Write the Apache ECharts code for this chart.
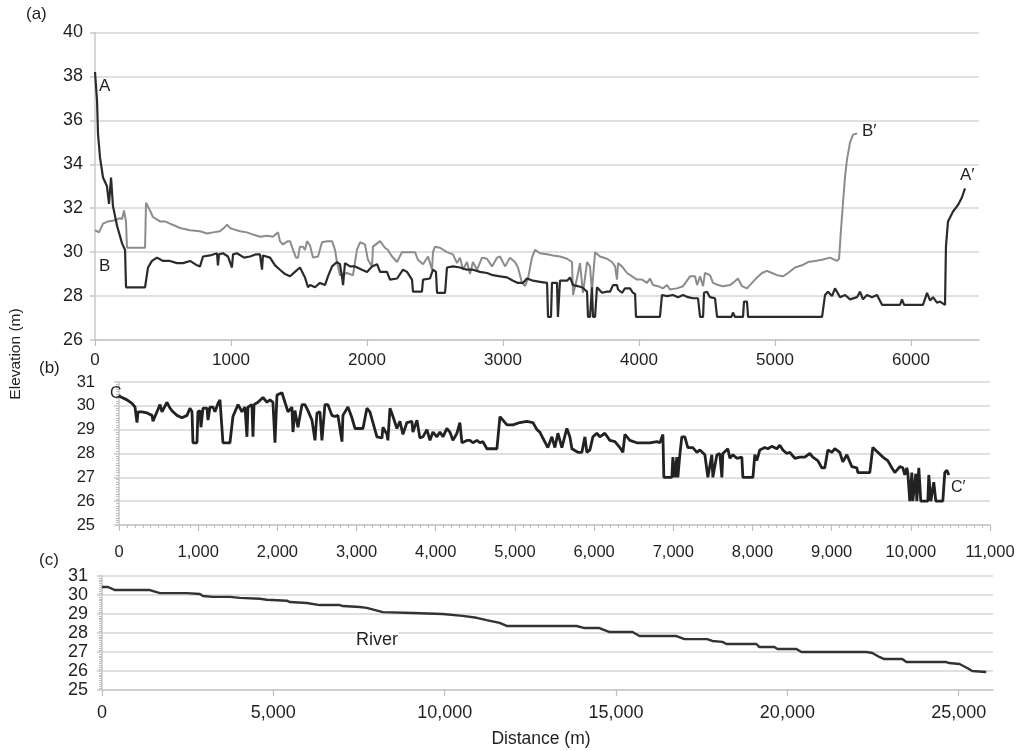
<!DOCTYPE html>
<html>
<head>
<meta charset="utf-8">
<script src="https://cdn.jsdelivr.net/npm/echarts@6/dist/echarts.min.js"></script>
<style>
html,body{margin:0;padding:0;background:#fff;}
#chart{width:1026px;height:751px;}
</style>
</head>
<body>
<div id="chart"></div>
<script>
// ---------- Panel (a): cross-section A–A' (black) ----------
var aDist = [0,15,22,37,59,88,103,118,132,162,199,221,228,368,390,419,456,500,551,603,647,699,750,772,794,846,897,904,912,941,978,1007,1015,1044,1096,1140,1184,1213,1228,1235,1287,1324,1360,1397,1434,1470,1507,1544,1566,1581,1618,1654,1691,1713,1743,1779,1801,1816,1824,1838,1875,1912,1963,2000,2037,2074,2096,2147,2169,2221,2265,2294,2331,2338,2404,2412,2463,2485,2507,2515,2574,2588,2632,2684,2735,2779,2831,2882,2926,2978,3029,3074,3110,3147,3176,3221,3272,3324,3331,3353,3360,3397,3404,3412,3419,3471,3493,3515,3552,3581,3618,3625,3640,3654,3662,3677,3691,3728,3765,3787,3809,3838,3846,3875,3897,3934,3956,3971,3978,4154,4169,4206,4250,4287,4324,4360,4397,4434,4449,4471,4478,4500,4522,4559,4574,4680,4691,4706,4765,4772,4794,4802,5346,5368,5390,5419,5441,5478,5515,5552,5603,5625,5647,5676,5713,5750,5787,5919,5934,5949,6088,6118,6140,6162,6191,6213,6250,6257,6272,6309,6346,6375,6397];
var aElev = [38.2,36.9,35.4,34.3,33.4,33.0,32.2,33.4,32.1,31.2,30.4,30.1,28.4,28.4,29.3,29.6,29.75,29.6,29.6,29.5,29.5,29.6,29.4,29.35,29.8,29.85,29.95,29.4,29.9,29.95,29.8,29.3,29.9,29.95,29.75,29.8,29.9,29.9,29.2,29.85,29.75,29.4,29.2,29.0,28.9,29.1,29.3,28.85,28.4,28.5,28.4,28.6,28.5,28.9,29.35,29.55,29.45,28.9,28.5,29.5,29.35,29.35,29.2,29.1,29.35,29.45,29.1,29.1,28.75,28.8,29.2,29.1,28.75,28.2,28.2,28.75,28.8,29.2,29.1,28.15,28.15,29.3,29.35,29.3,29.2,29.2,29.1,29.05,28.95,28.9,28.85,28.7,28.6,28.6,28.8,28.7,28.65,28.6,27.05,27.05,28.6,28.6,27.05,27.05,28.7,28.7,28.85,28.5,28.45,28.4,28.2,27.05,27.05,28.4,27.05,27.05,28.4,28.15,28.2,28.2,28.5,28.5,28.3,28.15,28.35,28.35,28.15,28.1,27.05,27.05,28.05,28.0,28.05,27.95,28.05,27.95,27.9,27.9,27.05,27.05,28.15,28.2,27.95,27.9,27.05,27.05,27.25,27.05,27.05,27.75,27.75,27.05,27.05,28.05,28.2,28.0,28.35,27.95,28.05,27.85,27.95,28.2,27.85,28.05,27.95,28.05,27.6,27.6,27.85,27.6,27.6,28.15,27.8,27.95,27.7,27.75,27.6,30.25,31.4,31.85,32.15,32.5,32.9];

// ---------- Panel (a): cross-section B–B' (grey) ----------
var bDist = [0,29,59,96,147,184,199,213,228,235,368,375,404,426,478,515,551,588,625,699,772,824,868,919,956,971,993,1015,1066,1118,1162,1213,1265,1309,1346,1360,1382,1419,1434,1456,1478,1493,1507,1529,1544,1559,1581,1603,1640,1669,1706,1743,1765,1779,1801,1853,1897,1926,1949,1985,2007,2037,2044,2096,2132,2154,2184,2221,2257,2294,2353,2375,2412,2449,2478,2485,2500,2537,2588,2632,2662,2684,2706,2735,2757,2779,2809,2846,2882,2919,2956,2978,3015,3051,3088,3110,3140,3162,3184,3213,3235,3272,3324,3368,3419,3471,3507,3515,3544,3566,3588,3618,3640,3654,3677,3713,3765,3801,3824,3838,3846,3875,3912,3949,3985,4022,4059,4081,4103,4140,4176,4206,4228,4279,4324,4375,4412,4427,4449,4471,4485,4522,4544,4581,4618,4669,4691,4728,4757,4794,4831,4868,4904,4941,4978,5015,5059,5096,5147,5199,5243,5294,5346,5404,5456,5471,5485,5500,5515,5529,5552,5574,5603];
var bElev = [31.0,30.9,31.3,31.4,31.45,31.55,31.5,31.9,31.4,30.2,30.2,32.25,31.9,31.6,31.4,31.4,31.3,31.2,31.1,31.0,30.95,30.85,30.9,30.95,31.15,31.25,31.1,31.05,30.95,30.9,30.8,30.7,30.75,30.7,30.9,30.5,30.35,30.5,30.5,30.1,29.75,29.75,30.25,30.25,30.1,30.5,30.3,29.75,29.8,30.45,30.5,30.5,30.1,29.55,28.95,29.05,28.95,30.1,30.45,30.35,29.65,29.35,30.25,30.5,30.2,30.1,29.8,29.55,30.0,30.0,30.0,29.65,29.45,29.8,29.2,30.0,30.25,30.2,30.0,29.9,29.5,29.75,29.2,29.55,29.0,29.55,29.2,29.75,29.7,29.35,29.75,29.8,29.35,29.75,29.55,29.3,28.6,28.45,28.8,29.75,30.1,29.95,29.9,29.85,29.8,29.7,29.55,28.05,28.8,29.5,28.15,29.55,29.35,28.2,30.0,29.8,29.7,29.55,29.35,28.75,29.5,29.35,29.05,28.9,28.75,28.75,28.6,28.8,28.5,28.45,28.35,28.5,28.3,28.35,28.45,28.9,28.9,28.5,28.9,28.45,29.05,28.95,28.6,28.5,28.45,28.5,28.6,28.8,28.45,28.35,28.6,28.85,29.05,29.15,29.05,28.95,28.9,29.05,29.3,29.4,29.55,29.6,29.65,29.75,29.6,29.7,31.0,32.25,33.45,34.2,35.0,35.35,35.4];

// ---------- Panel (b): cross-section C–C' ----------
var cDist = [0,38,101,164,202,227,240,290,354,417,429,480,518,543,606,644,682,732,795,859,896,922,934,985,997,1023,1035,1061,1111,1124,1149,1187,1212,1250,1275,1313,1401,1439,1503,1553,1591,1616,1629,1679,1692,1705,1755,1818,1869,1907,1944,1970,1995,2058,2096,2134,2184,2197,2222,2260,2311,2348,2386,2437,2475,2500,2538,2563,2601,2639,2689,2727,2765,2816,2828,2891,2942,2980,3081,3131,3169,3207,3258,3321,3333,3384,3396,3422,3460,3510,3548,3586,3636,3699,3712,3763,3800,3838,3889,3927,3965,4015,4053,4091,4141,4179,4217,4268,4305,4331,4394,4432,4470,4520,4558,4596,4646,4773,4811,4899,4975,5063,5151,5227,5278,5315,5353,5416,5467,5505,5543,5593,5656,5694,5720,5732,5795,5846,5884,5909,5947,5985,6035,6073,6136,6199,6263,6326,6364,6389,6452,6540,6616,6704,6793,6831,6869,6881,6982,6995,7020,7045,7058,7083,7108,7146,7184,7247,7298,7336,7399,7437,7487,7500,7551,7588,7614,7626,7689,7715,7752,7803,7866,7879,8006,8030,8055,8093,8156,8194,8245,8308,8346,8384,8434,8472,8535,8598,8661,8724,8762,8825,8876,8914,8952,9002,9040,9103,9141,9192,9255,9318,9331,9482,9520,9583,9646,9709,9760,9798,9861,9899,9924,9949,9962,9987,10013,10025,10063,10076,10101,10126,10215,10227,10253,10278,10290,10316,10404,10429,10455,10480];
var cElev = [30.4,30.35,30.25,30.1,29.95,29.3,29.75,29.75,29.7,29.6,29.35,29.75,30.05,29.75,30.15,29.9,29.75,29.6,29.5,29.6,29.9,29.75,28.45,28.45,29.75,29.8,29.1,29.9,29.9,29.4,29.95,29.95,29.75,30.1,30.25,28.45,28.45,29.55,30.05,29.75,29.95,28.7,29.95,30.05,28.7,30.05,30.15,30.35,30.15,30.25,30.15,28.45,30.45,30.55,30.15,29.75,29.95,28.9,29.8,29.1,30.05,30.05,29.8,29.4,28.55,29.7,29.75,28.55,30.05,30.05,29.6,29.55,29.6,28.5,29.6,29.95,29.5,29.05,29.05,29.9,29.75,29.3,28.7,28.65,29.1,28.8,28.55,29.9,29.55,29.05,29.35,28.8,29.3,29.35,28.9,29.4,28.65,28.7,29.0,28.55,28.9,28.7,28.9,28.7,29.05,28.9,28.55,28.85,29.3,28.45,28.55,28.55,28.45,28.55,28.45,28.5,28.2,28.2,29.55,29.2,29.2,29.3,29.35,29.3,29.0,28.9,28.65,28.25,28.7,28.25,28.85,28.25,29.05,28.7,28.2,28.15,28.05,28.05,28.7,28.05,28.15,28.7,28.85,28.7,28.85,28.55,28.5,28.25,28.05,28.8,28.55,28.45,28.45,28.45,28.5,28.45,28.8,27.0,27.0,27.85,27.0,27.85,27.0,27.95,28.7,28.7,28.25,28.25,28.05,28.15,27.95,27.0,27.95,27.0,27.95,28.0,27.0,28.0,28.2,27.8,27.95,27.8,27.85,27.0,27.0,27.95,27.7,28.15,28.25,28.2,28.3,28.2,28.35,28.15,28.0,28.05,27.8,27.85,27.85,28.0,27.85,27.7,27.4,27.4,28.15,28.05,28.2,28.05,27.65,27.95,27.45,27.4,27.2,27.2,28.25,28.05,27.85,27.7,27.4,27.2,27.45,27.4,27.1,27.4,27.2,26.0,27.2,26.0,27.15,26.0,27.4,26.0,26.0,27.1,26.0,26.0,26.8,26.0,26.0,27.2,27.3,27.1];

// ---------- Panel (c): river profile ----------
var riverDist = [0,175,379,525,1400,1691,2478,2857,2945,3236,3732,4023,4606,4811,5394,5481,5977,6356,6939,7026,7522,7726,8193,9067,9942,10525,10933,11225,11604,11808,12187,13849,14082,14519,14811,15481,15685,16764,16998,17658,17808,18105,18222,19097,19184,19621,19709,20263,20409,22304,22479,22683,22828,23353,23470,24636,24723,25023,25248,25394,25802];
var riverElev = [30.42,30.42,30.26,30.26,30.26,30.1,30.1,30.05,29.95,29.9,29.9,29.85,29.8,29.75,29.7,29.63,29.58,29.47,29.47,29.42,29.37,29.32,29.1,29.05,29.0,28.9,28.8,28.68,28.53,28.37,28.37,28.37,28.26,28.26,28.05,28.05,27.84,27.84,27.68,27.68,27.58,27.53,27.42,27.42,27.26,27.26,27.16,27.16,27.0,27.0,26.95,26.74,26.63,26.63,26.47,26.47,26.42,26.37,26.16,26.0,25.95];

// ---------- Tick values ----------
var aXTicks = [0,1000,2000,3000,4000,5000,6000];
var bXTicks = [0,1000,2000,3000,4000,5000,6000,7000,8000,9000,10000,11000];
var cXTicks = [0,5000,10000,15000,20000,25000];

function zip(xs, ys){ var out=[]; for(var i=0;i<xs.length;i++){ out.push([xs[i], ys[i]]); } return out; }
function comma(v){ return String(v).replace(/\B(?=(\d{3})+(?!\d))/g, ','); }

var FONT = 'Liberation Sans';
var TXT = '#231f20';
var GRIDC = '#d6d6d6';

var chart = echarts.init(document.getElementById('chart'), null, {renderer:'canvas'});

function yAxisCfg(gi, min, max, interval, fs, margin, minor){
  return {
    type:'value', gridIndex:gi, min:min, max:max, interval:interval,
    axisLine:{show:true, lineStyle:{color:'#c8c8c8', width:1.5}},
    axisTick:{show:true, length:5, lineStyle:{color:'#c8c8c8', width:1.5}},
    minorTick: minor ? {show:true, splitNumber:10, length:3, lineStyle:{color:'#bdbdbd'}} : {show:false},
    minorSplitLine:{show:false},
    axisLabel:{color:TXT, fontFamily:FONT, fontSize:fs, margin:margin},
    splitLine:{show:true, lineStyle:{color:GRIDC, width:1.5}}
  };
}
function xAxisCfg(gi, min, max, interval, ticks, fs, margin, fmt, minorSplit){
  return {
    type:'value', gridIndex:gi, min:min, max:max, interval:interval,
    axisLine:{show:true, onZero:false, lineStyle:{color:'#c8c8c8', width:1.5}},
    axisTick:{show:true, length:6, customValues:ticks, lineStyle:{color:'#bdbdbd', width:1.2}},
    minorTick: minorSplit ? {show:true, splitNumber:minorSplit, length:3, lineStyle:{color:'#bdbdbd'}} : {show:false},
    axisLabel:{color:TXT, fontFamily:FONT, fontSize:fs, margin:margin, customValues:ticks, formatter:fmt},
    splitLine:{show:false}
  };
}

var option = {
  animation:false,
  backgroundColor:'#ffffff',
  grid:[
    {left:95, top:32.5, width:884, height:307.5},
    {left:119, top:382, width:871, height:143},
    {left:102, top:576, width:891, height:114}
  ],
  xAxis:[
    xAxisCfg(0, 0, 6500, 1000, aXTicks, 17, 12, function(v){return String(v);}, 0),
    xAxisCfg(1, 0, 11000, 1000, bXTicks, 16.5, 19, function(v){return comma(v);}, 10),
    xAxisCfg(2, 0, 26000, 1000, cXTicks, 18, 14, function(v){return comma(v);}, 0)
  ],
  yAxis:[
    yAxisCfg(0, 26, 40, 2, 18, 12, false),
    yAxisCfg(1, 25, 31, 1, 16.5, 24, true),
    yAxisCfg(2, 25, 31, 1, 18, 14, true)
  ],
  series:[
    {type:'line', xAxisIndex:0, yAxisIndex:0, data:zip(bDist,bElev), showSymbol:false, symbol:'none',
     lineStyle:{color:'#8c8c8c', width:2}, z:2},
    {type:'line', xAxisIndex:0, yAxisIndex:0, data:zip(aDist,aElev), showSymbol:false, symbol:'none',
     lineStyle:{color:'#2b2b2b', width:2.2}, z:3},
    {type:'line', xAxisIndex:1, yAxisIndex:1, data:zip(cDist,cElev), showSymbol:false, symbol:'none',
     lineStyle:{color:'#222222', width:2.8}, z:3},
    {type:'line', xAxisIndex:2, yAxisIndex:2, data:zip(riverDist,riverElev), showSymbol:false, symbol:'none',
     lineStyle:{color:'#333333', width:2.4}, z:3}
  ],
  graphic:[
    {type:'text', left:26, top:6, z:100, style:{text:'(a)', font:'17px "Liberation Sans"', fill:TXT}},
    {type:'text', left:39, top:360, z:100, style:{text:'(b)', font:'17px "Liberation Sans"', fill:TXT}},
    {type:'text', left:39, top:552, z:100, style:{text:'(c)', font:'17px "Liberation Sans"', fill:TXT}},
    {type:'text', x:16, y:354, z:100, rotation:Math.PI/2, style:{text:'Elevation (m)', font:'15.5px "Liberation Sans"', fill:TXT, align:'center', verticalAlign:'middle'}},
    {type:'text', x:541, y:739, z:100, style:{text:'Distance (m)', font:'17.5px "Liberation Sans"', fill:TXT, align:'center', verticalAlign:'middle'}},
    {type:'text', x:99, y:86, z:100, style:{text:'A', font:'17px "Liberation Sans"', fill:TXT, align:'left', verticalAlign:'middle'}},
    {type:'text', x:99, y:266, z:100, style:{text:'B', font:'17px "Liberation Sans"', fill:TXT, align:'left', verticalAlign:'middle'}},
    {type:'text', x:862, y:131, z:100, style:{text:'B\u2032', font:'17px "Liberation Sans"', fill:TXT, align:'left', verticalAlign:'middle'}},
    {type:'text', x:960, y:175, z:100, style:{text:'A\u2032', font:'17px "Liberation Sans"', fill:TXT, align:'left', verticalAlign:'middle'}},
    {type:'text', x:110, y:394, z:100, style:{text:'C', font:'16px "Liberation Sans"', fill:TXT, align:'left', verticalAlign:'middle'}},
    {type:'text', x:951, y:488, z:100, style:{text:'C\u2032', font:'16px "Liberation Sans"', fill:TXT, align:'left', verticalAlign:'middle'}},
    {type:'text', x:377, y:640, z:100, style:{text:'River', font:'18px "Liberation Sans"', fill:TXT, align:'center', verticalAlign:'middle', backgroundColor:'#ffffff'}}
  ]
};
chart.setOption(option);
</script>
</body>
</html>
